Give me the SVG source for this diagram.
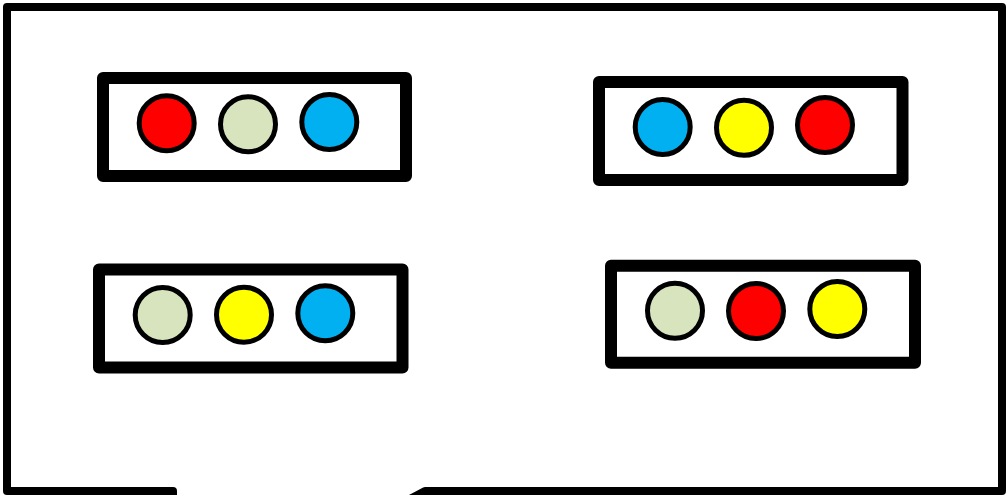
<svg xmlns="http://www.w3.org/2000/svg" width="1007" height="495" viewBox="0 0 1007 495">
<style>
.frame{fill:#fff;stroke:#000;stroke-width:8;stroke-linejoin:round;stroke-linecap:round}
.box{fill:#fff;stroke:#000;stroke-width:12;stroke-linejoin:round}
.dot{stroke:#000;stroke-width:5}
.r{fill:#FF0000}.g{fill:#D7E4BD}.b{fill:#00B0F0}.y{fill:#FFFF00}
</style>
<rect width="1007" height="495" fill="#fff"/>
<g id="frame">
<path class="frame" d="M173,491 L7,491 L7,7 L1002,7 L1002,491 L425,491 L365,523 L173,523 Z"/>
</g>
<g id="group1">
<rect class="box" x="103" y="78" width="303" height="98"/>
<circle class="dot r" cx="166.7" cy="123.3" r="27.5"/>
<circle class="dot g" cx="248" cy="124.3" r="27.5"/>
<circle class="dot b" cx="329.3" cy="122" r="27.5"/>
</g>
<g id="group2">
<rect class="box" x="599" y="82" width="303.5" height="98"/>
<circle class="dot b" cx="662.7" cy="127" r="27.5"/>
<circle class="dot y" cx="744" cy="127.8" r="27.5"/>
<circle class="dot r" cx="825" cy="125" r="27.5"/>
</g>
<g id="group3">
<rect class="box" x="99" y="269.5" width="303.5" height="98"/>
<circle class="dot g" cx="162.7" cy="315" r="27.5"/>
<circle class="dot y" cx="244" cy="314.7" r="27.5"/>
<circle class="dot b" cx="325.3" cy="313.3" r="27.5"/>
</g>
<g id="group4">
<rect class="box" x="611" y="265.7" width="304" height="97"/>
<circle class="dot g" cx="675" cy="310.8" r="27.5"/>
<circle class="dot r" cx="756" cy="311" r="27.5"/>
<circle class="dot y" cx="837.3" cy="309" r="27.5"/>
</g>
<g id="connectors"></g>
</svg>
